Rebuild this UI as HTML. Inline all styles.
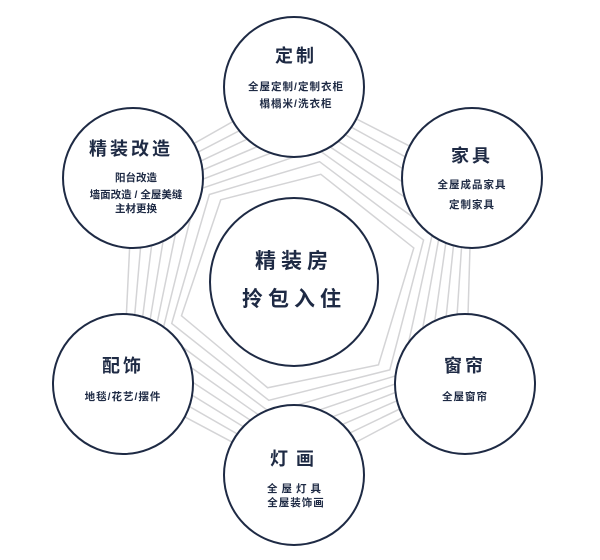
<!DOCTYPE html>
<html><head><meta charset="utf-8"><style>
html,body{margin:0;padding:0;background:#fff;}
svg{display:block;}
text{font-family:"Liberation Sans","Noto Sans CJK SC",sans-serif;fill:#1e2a44;text-anchor:middle;}
.t{font-size:18px;font-weight:bold;letter-spacing:3px;}
.s{font-size:10.5px;font-weight:bold;letter-spacing:1px;}
</style></head><body>
<svg width="600" height="560" viewBox="0 0 600 560" xmlns="http://www.w3.org/2000/svg">
<g fill="none" stroke="#d4d4d6" stroke-width="1.5">
<g transform="translate(294,282)">
<polygon points="0,-195 178,-104 172,102 0,193 -171,102 -161,-104"/>
<polygon points="0,-183 168,-98 162,96 0,181 -161,96 -151,-98" transform="rotate(2)"/>
<polygon points="0,-171 158,-92 152,90 0,169 -151,90 -141,-92" transform="rotate(4)"/>
<polygon points="0,-159 148,-86 142,84 0,157 -141,84 -131,-86" transform="rotate(6)"/>
<polygon points="0,-147 138,-80 132,78 0,145 -131,78 -121,-80" transform="rotate(8)"/>
<polygon points="0,-135 128,-74 122,72 0,133 -121,72 -111,-74" transform="rotate(10)"/>
<polygon points="0,-123 118,-68 112,66 0,121 -111,66 -101,-68" transform="rotate(12)"/>
<polygon points="0,-111 108,-62 102,60 0,109 -101,60 -91,-62" transform="rotate(14)"/>
</g>
</g>
<g fill="#fff" stroke="#1e2a44" stroke-width="2">
<circle cx="294" cy="87" r="70"/>
<circle cx="133" cy="178" r="70"/>
<circle cx="472" cy="178" r="70"/>
<circle cx="123" cy="384" r="70"/>
<circle cx="465" cy="384" r="70"/>
<circle cx="294" cy="475" r="70"/>
<circle cx="294" cy="282" r="84"/>
</g>
<text class="t" x="296" y="62">定制</text>
<text class="s" x="296" y="90">全屋定制/定制衣柜</text>
<text class="s" x="296" y="107">榻榻米/洗衣柜</text>
<text class="t" x="131" y="155">精装改造</text>
<text class="s" x="136" y="181" style="letter-spacing:0">阳台改造</text>
<text class="s" x="136" y="198" style="letter-spacing:0">墙面改造 / 全屋美缝</text>
<text class="s" x="136" y="212" style="letter-spacing:0">主材更换</text>
<text class="t" x="472" y="162">家具</text>
<text class="s" x="472" y="188">全屋成品家具</text>
<text class="s" x="472" y="208">定制家具</text>
<text class="t" x="294" y="268" style="font-size:21px;letter-spacing:5px">精装房</text>
<text class="t" x="294" y="306" style="font-size:21px;letter-spacing:5px">拎包入住</text>
<text class="t" x="123" y="372">配饰</text>
<text class="s" x="123" y="400">地毯/花艺/摆件</text>
<text class="t" x="465" y="372">窗帘</text>
<text class="s" x="465" y="400">全屋窗帘</text>
<text class="t" x="296" y="465" style="letter-spacing:8px">灯画</text>
<text class="s" x="296" y="492" style="letter-spacing:4px">全屋灯具</text>
<text class="s" x="296" y="506">全屋装饰画</text>
</svg>
</body></html>
